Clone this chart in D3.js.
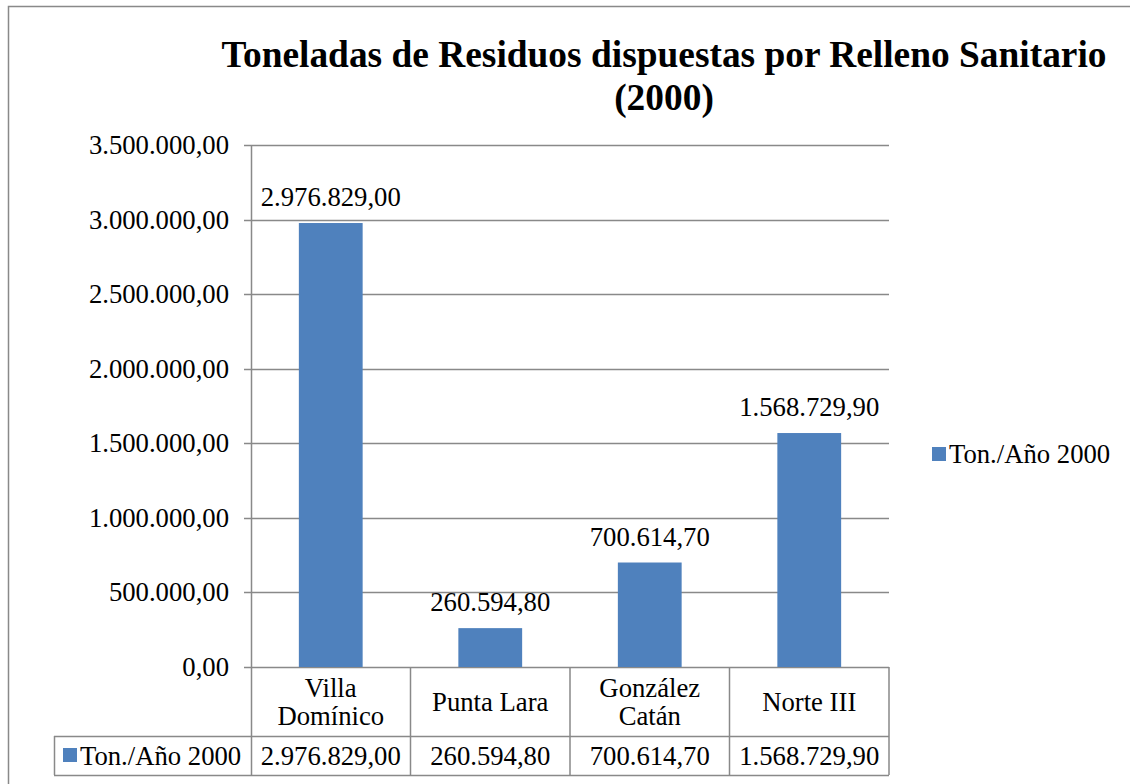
<!DOCTYPE html>
<html>
<head>
<meta charset="utf-8">
<script src="https://cdn.jsdelivr.net/npm/d3@7"></script>
</head>
<body style="margin:0;background:#fff">
<svg id="chart" width="1130" height="784"></svg>
<script>
// data
const categories = ["Villa Domínico", "Punta Lara", "González Catán", "Norte III"];
const categoryLines = [["Villa", "Domínico"], ["Punta Lara"], ["González", "Catán"], ["Norte III"]];
const values = [2976829.00, 260594.80, 700614.70, 1568729.90];
const seriesName = "Ton./Año 2000";
const yTicks = [0, 500000, 1000000, 1500000, 2000000, 2500000, 3000000, 3500000];

const fmt = v => {
  const [i, d] = v.toFixed(2).split(".");
  return i.replace(/\B(?=(\d{3})+(?!\d))/g, ".") + "," + d;
};

const svg = d3.select("#chart");
const barColor = "#4F81BD";
const gridColor = "#898989";
const font = "Liberation Serif";
const fs = "26.7px";

// outer chart border
svg.append("rect")
  .attr("x", 8.5).attr("y", 6.5)
  .attr("width", 1130).attr("height", 800)
  .attr("fill", "none").attr("stroke", gridColor).attr("stroke-width", 1.5);

const plot = { left: 251, right: 889, top: 145, bottom: 667 };

const x = d3.scaleBand()
  .domain(categories)
  .range([plot.left, plot.right])
  .paddingInner(0.6).paddingOuter(0.3);

const y = d3.scaleLinear()
  .domain([0, 3500000])
  .range([plot.bottom, plot.top]);

// gridlines
svg.append("g")
  .selectAll("line")
  .data(yTicks)
  .join("line")
  .attr("x1", plot.left - 7).attr("x2", plot.right)
  .attr("y1", d => Math.round(y(d)) + 0.5).attr("y2", d => Math.round(y(d)) + 0.5)
  .attr("stroke", gridColor).attr("stroke-width", 1.5);

// y axis labels
svg.append("g")
  .selectAll("text")
  .data(yTicks)
  .join("text")
  .attr("x", 229)
  .attr("y", d => y(d) + 9)
  .attr("text-anchor", "end")
  .attr("font-family", font)
  .style("font-size", fs)
  .text(d => fmt(d));

// bars
svg.append("g")
  .selectAll("rect")
  .data(values)
  .join("rect")
  .attr("x", (d, i) => x(categories[i]))
  .attr("y", d => y(d))
  .attr("width", x.bandwidth())
  .attr("height", d => y(0) - y(d))
  .attr("fill", barColor);

// data labels
svg.append("g")
  .selectAll("text")
  .data(values)
  .join("text")
  .attr("x", (d, i) => x(categories[i]) + x.bandwidth() / 2)
  .attr("y", d => y(d) - 17)
  .attr("text-anchor", "middle")
  .attr("font-family", font)
  .style("font-size", fs)
  .text(d => fmt(d));

// data table
const step = x.step();
const row1Bottom = 736, row2Bottom = 775, tableLeft = 54;
const tbl = svg.append("g").attr("stroke", gridColor).attr("stroke-width", 1.5).attr("fill", "none");
// vertical axis line through table
tbl.append("line").attr("x1", plot.left + 0.5).attr("x2", plot.left + 0.5).attr("y1", plot.top).attr("y2", row2Bottom);
tbl.selectAll(".vl")
  .data(categories)
  .join("line")
  .attr("x1", (d, i) => plot.left + step * (i + 1)).attr("x2", (d, i) => plot.left + step * (i + 1))
  .attr("y1", plot.bottom).attr("y2", row2Bottom);
tbl.append("line").attr("x1", tableLeft).attr("x2", plot.right).attr("y1", row1Bottom + 0.5).attr("y2", row1Bottom + 0.5);
tbl.append("line").attr("x1", tableLeft).attr("x2", plot.right).attr("y1", row2Bottom + 0.5).attr("y2", row2Bottom + 0.5);
tbl.append("line").attr("x1", tableLeft + 0.5).attr("x2", tableLeft + 0.5).attr("y1", row1Bottom).attr("y2", row2Bottom);

// category labels
const catG = svg.append("g");
categoryLines.forEach((lines, i) => {
  const cx = plot.left + step * (i + 0.5);
  const cy = (plot.bottom + row1Bottom) / 2;
  lines.forEach((ln, j) => {
    catG.append("text")
      .attr("x", cx)
      .attr("y", cy + 9 + (j - (lines.length - 1) / 2) * 28)
      .attr("text-anchor", "middle")
      .attr("font-family", font)
      .style("font-size", fs)
      .text(ln);
  });
});

// values row
svg.append("g")
  .selectAll("text")
  .data(values)
  .join("text")
  .attr("x", (d, i) => plot.left + step * (i + 0.5))
  .attr("y", (row1Bottom + row2Bottom) / 2 + 9)
  .attr("text-anchor", "middle")
  .attr("font-family", font)
  .style("font-size", fs)
  .text(d => fmt(d));

// legend key in table
svg.append("rect").attr("x", 63).attr("y", 748).attr("width", 14).attr("height", 14).attr("fill", barColor);
svg.append("text").attr("x", 80).attr("y", (row1Bottom + row2Bottom) / 2 + 9)
  .attr("font-family", font).style("font-size", fs).text(seriesName);

// right legend
svg.append("rect").attr("x", 932).attr("y", 447).attr("width", 14).attr("height", 14).attr("fill", barColor);
svg.append("text").attr("x", 949).attr("y", 463)
  .attr("font-family", font).style("font-size", fs).text(seriesName);

// title
const title = svg.append("text")
  .attr("text-anchor", "middle")
  .attr("font-family", font)
  .style("font-size", "37.4px").style("font-weight", "bold");
title.append("tspan").attr("x", 664).attr("y", 67).text("Toneladas de Residuos dispuestas por Relleno Sanitario");
title.append("tspan").attr("x", 664).attr("y", 110).text("(2000)");
</script>
</body>
</html>
